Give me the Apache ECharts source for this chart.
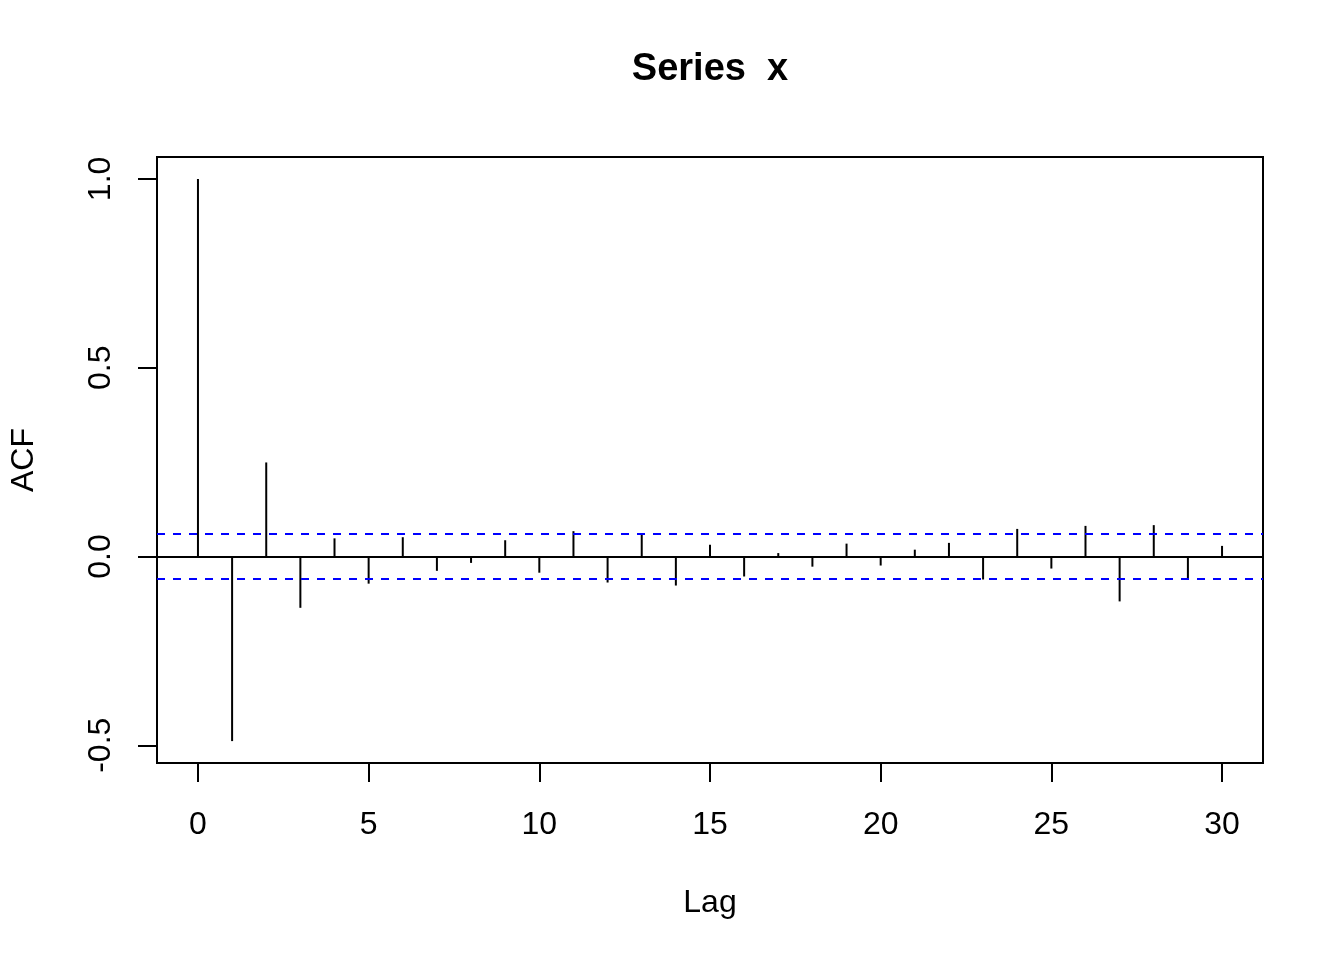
<!DOCTYPE html>
<html>
<head>
<meta charset="utf-8">
<script src="https://cdn.jsdelivr.net/npm/echarts@6/dist/echarts.min.js"></script>
<style>
html,body{margin:0;padding:0;background:#fff;}
#chart{width:1344px;height:960px;}
</style>
</head>
<body>
<div id="chart"></div>
<script>
var titleText = 'Series  x';
var xName = 'Lag';
var yName = 'ACF';
var lags = [0,1,2,3,4,5,6,7,8,9,10,11,12,13,14,15,16,17,18,19,20,21,22,23,24,25,26,27,28,29,30];
var acf = [1.0,-0.489,0.249,-0.136,0.048,-0.072,0.051,-0.038,-0.017,0.043,-0.043,
           0.067,-0.069,0.062,-0.077,0.031,-0.053,0.009,-0.027,0.034,-0.024,
           0.018,0.036,-0.061,0.073,-0.032,0.081,-0.119,0.083,-0.061,0.028];
var ciBound = 0.062;
var xTicks = [0,5,10,15,20,25,30];
var yTicks = [-0.5,0,0.5,1.0];

var chart = echarts.init(document.getElementById('chart'), null, {renderer:'canvas'});
var font = 'Liberation Sans, Arial, sans-serif';
var option = {
  backgroundColor: '#ffffff',
  animation: false,
  title: {
    text: titleText,
    left: 705,
    top: 46,
    textAlign: 'center',
    textStyle: {fontFamily: font, fontSize: 38, fontWeight: 'bold', color: '#000'}
  },
  grid: {
    left: 157, top: 157, right: 81, bottom: 197,
    show: true, borderColor: '#000', borderWidth: 2, backgroundColor: 'transparent',
    containLabel: false,
    outerBoundsMode: 'none'
  },
  xAxis: {
    type: 'value', min: -1.2, max: 31.2,
    name: xName, nameLocation: 'middle', nameGap: 124,
    nameTextStyle: {fontFamily: font, fontSize: 32, color: '#000'},
    axisLine: {show: false, onZero: false},
    splitLine: {show: false},
    axisTick: {show: true, inside: false, length: 19, lineStyle: {color: '#000', width: 2}, customValues: xTicks},
    axisLabel: {show: true, margin: 46, fontFamily: font, fontSize: 32, color: '#000', customValues: xTicks,
      formatter: function(v){ return String(v); }}
  },
  yAxis: {
    type: 'value', min: -0.547, max: 1.058,
    name: yName, nameLocation: 'middle', nameGap: 117, nameRotate: 90,
    nameTextStyle: {fontFamily: font, fontSize: 32, color: '#000'},
    axisLine: {show: false, onZero: false},
    splitLine: {show: false},
    axisTick: {show: true, inside: false, length: 19, lineStyle: {color: '#000', width: 2}, customValues: yTicks},
    axisLabel: {show: true, rotate: 90, margin: 40, fontFamily: font, fontSize: 32, color: '#000', customValues: yTicks,
      formatter: function(v){ return v.toFixed(1); }}
  },
  series: [{
    type: 'bar',
    barWidth: 2,
    itemStyle: {color: '#000'},
    data: lags.map(function(l, i){ return [l, acf[i]]; }),
    markLine: {
      silent: true,
      symbol: ['none','none'],
      label: {show: false},
      data: [
        {yAxis: 0, lineStyle: {color: '#000', width: 2, type: 'solid'}},
        {yAxis: ciBound, lineStyle: {color: '#0000ff', width: 2, type: [8,8]}},
        {yAxis: -ciBound, lineStyle: {color: '#0000ff', width: 2, type: [8,8]}}
      ]
    }
  }]
};
chart.setOption(option);
</script>
</body>
</html>
